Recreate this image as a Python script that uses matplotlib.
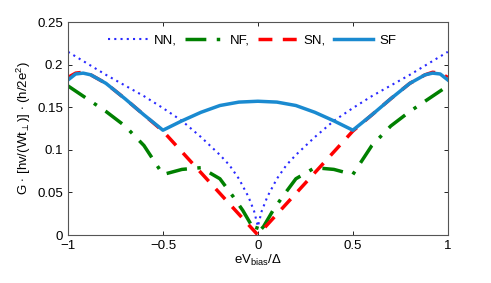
import numpy as np
import matplotlib
matplotlib.use('Agg')
import matplotlib.pyplot as plt

plt.rcParams['font.family'] = ['Liberation Sans', 'DejaVu Sans']
plt.rcParams['mathtext.fontset'] = 'custom'
plt.rcParams['mathtext.rm'] = 'Liberation Sans'
plt.rcParams['mathtext.it'] = 'Liberation Sans'

# NN (dotted)
x_nn = [-1, -0.8, -0.6, -0.5, -0.4, -0.3, -0.2, -0.15, -0.1, -0.05, -0.02, 0,
        0.02, 0.05, 0.1, 0.15, 0.2, 0.3, 0.4, 0.5, 0.6, 0.8, 1]
g_nn = [0.215, 0.188, 0.163, 0.149, 0.134, 0.115, 0.094, 0.082, 0.066, 0.045, 0.028, 0.010,
        0.028, 0.045, 0.066, 0.082, 0.094, 0.115, 0.134, 0.149, 0.163, 0.188, 0.215]

# NF (dash-dot)
x_nf = [-1, -0.9, -0.8, -0.7, -0.6, -0.5, -0.4, -0.3, -0.2, -0.13, -0.08, -0.03, -0.01, 0,
        0.01, 0.03, 0.08, 0.13, 0.2, 0.3, 0.4, 0.5, 0.6, 0.7, 0.8, 0.9, 1]
g_nf = [0.175, 0.160, 0.145, 0.128, 0.105, 0.071, 0.077, 0.079, 0.066, 0.045, 0.029, 0.010, 0.005, 0.012,
        0.005, 0.010, 0.029, 0.045, 0.066, 0.079, 0.077, 0.071, 0.105, 0.128, 0.145, 0.160, 0.175]

# SN (dashed)
x_sn = [-1, -0.96, -0.92, -0.88, -0.8, -0.7, -0.6, -0.5, 0,
        0.5, 0.6, 0.7, 0.8, 0.88, 0.92, 0.96, 1]
g_sn = [0.185, 0.190, 0.191, 0.188, 0.178, 0.160, 0.141, 0.122, 0.0,
        0.122, 0.141, 0.160, 0.178, 0.188, 0.191, 0.190, 0.185]

# SF (solid)
x_sf = [-1, -0.96, -0.92, -0.88, -0.8, -0.7, -0.6, -0.5, -0.4, -0.3, -0.2, -0.1, 0,
        0.1, 0.2, 0.3, 0.4, 0.5, 0.6, 0.7, 0.8, 0.88, 0.92, 0.96, 1]
g_sf = [0.182, 0.189, 0.190, 0.188, 0.178, 0.160, 0.141, 0.123, 0.134, 0.144, 0.152, 0.156, 0.157,
        0.156, 0.152, 0.144, 0.134, 0.123, 0.141, 0.160, 0.178, 0.188, 0.190, 0.189, 0.182]

xticks = [-1, -0.5, 0, 0.5, 1]
xticklabels = ['\u22121', '\u22120.5', '0', '0.5', '1']
yticks = [0, 0.05, 0.1, 0.15, 0.2, 0.25]
yticklabels = ['0', '0.05', '0.1', '0.15', '0.2', '0.25']

fs = 9.5

fig = plt.figure(figsize=(4.91, 2.83), dpi=100)
ax = fig.add_axes([0.1385, 0.1696, 0.7735, 0.7526])

ax.plot(x_nn, g_nn, color='#2a2aff', ls=(0, (1, 2)), lw=1.5, label='NN,')
ax.plot(x_nf, g_nf, color='#008000', ls=(0, (6, 3, 1, 3)), lw=2.5, label='NF,')
ax.plot(x_sn, g_sn, color='#ff0000', ls=(0, (4, 3)), lw=2.5, label='SN,')
ax.plot(x_sf, g_sf, color='#1a8ad0', ls='-', lw=2.5, label='SF')

ax.set_xlim(-1, 1)
ax.set_ylim(0, 0.25)
ax.set_xticks(xticks)
ax.set_xticklabels(xticklabels)
ax.set_yticks(yticks)
ax.set_yticklabels(yticklabels)
ax.tick_params(direction='in', top=True, right=True, labelsize=fs, length=3, width=0.6)
for s in ax.spines.values():
    s.set_color('#555555')
    s.set_linewidth(0.8)

ax.set_xlabel(r'eV$_{\mathrm{bias}}$/$\Delta$', fontsize=fs, labelpad=1)
ax.set_ylabel(r'G $\cdot$ [hv/(Wt$_{\perp}$)] $\cdot$ (h/2e$^{2}$)', fontsize=fs, labelpad=3)

ax.legend(loc='center', bbox_to_anchor=(0.485, 0.912), ncol=4, frameon=False,
          fontsize=fs, handlelength=3.0, handletextpad=0.45, columnspacing=0.6)

fig.savefig('out.png', dpi=100)
